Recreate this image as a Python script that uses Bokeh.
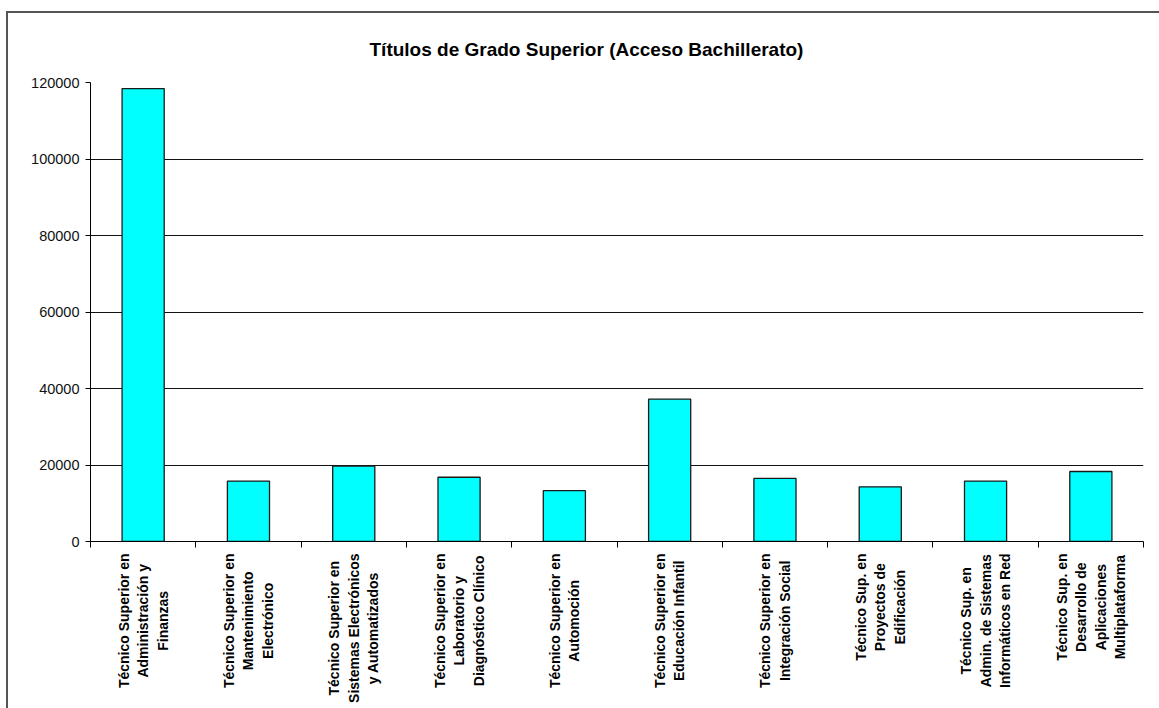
import math
from bokeh.plotting import figure
from bokeh.layouts import column
from bokeh.models import (FixedTicker, NumeralTickFormatter, GlobalInlineStyleSheet,
                          ColumnDataSource, Range1d)
from bokeh.core.properties import value
from bokeh.embed import file_html
from bokeh.resources import INLINE

title_text = "Títulos de Grado Superior (Acceso Bachillerato)"
categories = [
    "Técnico Superior en\nAdministración y\nFinanzas",
    "Técnico Superior en\nMantenimiento\nElectrónico",
    "Técnico Superior en\nSistemas Electrónicos\ny Automatizados",
    "Técnico Superior en\nLaboratorio y\nDiagnóstico Clínico",
    "Técnico Superior en\nAutomoción",
    "Técnico Superior en\nEducación Infantil",
    "Técnico Superior en\nIntegración Social",
    "Técnico Sup. en\nProyectos de\nEdificación",
    "Técnico Sup. en\nAdmin. de Sistemas\nInformáticos en Red",
    "Técnico Sup. en\nDesarrollo de\nAplicaciones\nMultiplataforma",
]
values = [118400, 15800, 19700, 16800, 13300, 37200, 16500, 14300, 15800, 18300]
y_ticks = [0, 20000, 40000, 60000, 80000, 100000, 120000]
grid_ticks = [20000, 40000, 60000, 80000, 100000]

positions = list(range(1, len(categories) + 1))
boundaries = [i + 0.5 for i in range(len(categories) + 1)]

# Approximate Arial/Liberation Sans Bold advance widths (1/1000 em), used only
# to centre the lines of each rotated category label on one another.
BOLD_W = {
    " ": 278, ".": 278, "A": 722, "B": 722, "C": 722, "D": 722, "E": 667, "F": 611,
    "I": 278, "L": 611, "M": 833, "P": 667, "R": 722, "S": 667, "T": 611,
    "a": 556, "b": 611, "c": 556, "d": 611, "e": 556, "f": 333, "g": 611, "h": 611,
    "i": 278, "l": 278, "m": 889, "n": 611, "o": 611, "p": 611, "r": 389, "s": 556,
    "t": 333, "u": 611, "y": 556, "z": 500, "é": 556, "ó": 611, "á": 556, "í": 278,
}
LABEL_PX = 14
LINE_STEP = 19.5
MAIN_BOTTOM = 8          # border below the x axis in the main figure
LABEL_GAP = 12           # distance from x axis to top of the labels
LABEL_H = 159            # height of the label strip
FIG_W = 1151
RIGHT_B = 16


def text_width(s):
    return sum(BOLD_W.get(ch, 556) for ch in s) * LABEL_PX / 1000.0


rows = {"x": [], "y": [], "text": [], "xo": []}
for pos, cat in zip(positions, categories):
    lines = cat.split("\n")
    n = len(lines)
    lmax = max(text_width(s) for s in lines)
    for j, line in enumerate(lines):
        rows["x"].append(pos)
        rows["y"].append(-((LABEL_GAP - MAIN_BOTTOM) + lmax / 2.0))
        rows["text"].append(line)
        rows["xo"].append((j - (n - 1) / 2.0) * LINE_STEP)
label_src = ColumnDataSource(rows)

p = figure(
    width=FIG_W, height=69 + 459 + MAIN_BOTTOM,
    x_range=(0.5, len(categories) + 0.5), y_range=(0, 120000),
    output_backend="svg", toolbar_location=None,
    min_border_left=82, min_border_right=RIGHT_B, min_border_top=69,
    min_border_bottom=MAIN_BOTTOM,
    title=title_text,
)

p.vbar(x=positions, top=values, width=0.4, fill_color="#00FFFF",
       line_color="#1a1a1a", line_width=1.3)

p.outline_line_color = None
p.background_fill_color = "white"
p.border_fill_color = "white"

p.title.text_font = "Liberation Sans"
p.title.text_font_size = "19px"
p.title.text_font_style = "bold"
p.title.text_color = "black"
p.title.align = "left"
p.title.offset = 279
p.title.standoff = 46

p.xgrid.visible = False
p.ygrid.ticker = FixedTicker(ticks=grid_ticks)
p.ygrid.grid_line_color = "#111111"
p.ygrid.grid_line_width = 1

ya = p.yaxis[0]
ya.ticker = FixedTicker(ticks=y_ticks)
ya.formatter = NumeralTickFormatter(format="0")
ya.axis_line_color = "black"
ya.major_tick_line_color = "black"
ya.major_tick_out = 5
ya.major_tick_in = 0
ya.minor_tick_line_color = None
ya.major_label_text_font = "Liberation Sans"
ya.major_label_text_font_size = "14.5px"
ya.major_label_text_color = "#111111"
ya.major_label_standoff = 6

xa = p.xaxis[0]
xa.ticker = FixedTicker(ticks=positions, minor_ticks=boundaries)
xa.major_label_overrides = {i: "" for i in positions}
xa.major_label_text_font_size = "0px"
xa.major_label_standoff = 0
xa.axis_line_color = "black"
xa.major_tick_out = 0
xa.major_tick_in = 0
xa.minor_tick_line_color = "black"
xa.minor_tick_out = 6
xa.minor_tick_in = 0

# Strip below the chart holding the rotated, multi-line category labels
p2 = figure(
    width=FIG_W, height=LABEL_H,
    x_range=p.x_range, y_range=Range1d(-LABEL_H, 0),
    output_backend="svg", toolbar_location=None,
    x_axis_type=None, y_axis_type=None,
    min_border_left=82, min_border_right=RIGHT_B, min_border_top=0, min_border_bottom=0,
)
p2.grid.visible = False
p2.outline_line_color = None
p2.background_fill_color = "white"
p2.border_fill_color = "white"
p2.text(
    x="x", y="y", text="text", source=label_src, x_offset="xo",
    angle=math.pi / 2, text_align="center", text_baseline="middle",
    text_font=value("Liberation Sans"), text_font_size="14px",
    text_font_style="bold", text_color="black",
)

layout = column(p, p2, spacing=0)
layout.styles = {"border-top": "2px solid #555555", "border-left": "2px solid #555555",
                 "margin-top": "11px", "margin-left": "6px"}
layout.stylesheets = [GlobalInlineStyleSheet(css="html, body { overflow: hidden; }")]

open("out.html", "w").write(file_html(layout, INLINE))
